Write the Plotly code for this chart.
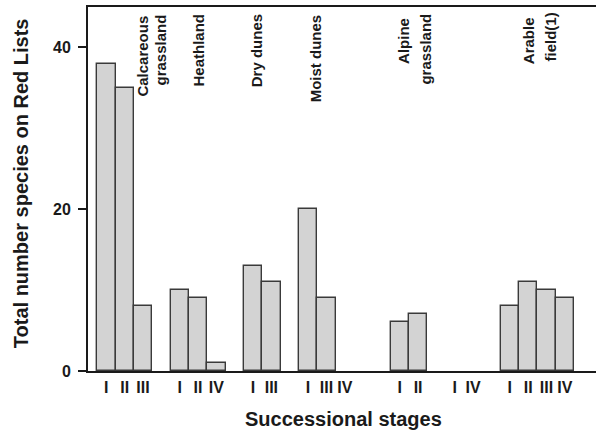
import plotly.graph_objects as go

# ---- data ----
stage_labels = ["I", "II", "III", "", "I", "II", "IV", "", "I", "III", "",
                "I", "III", "IV", "", "", "I", "II", "", "I", "IV", "",
                "I", "II", "III", "IV"]
species_counts = [38, 35, 8, None, 10, 9, 1, None, 13, 11, None,
                  20, 9, 0, None, None, 6, 7, None, 0, 0, None,
                  8, 11, 10, 9]
y_ticks = [0, 20, 40]
habitat_lines = ["Calcareous", "grassland", "Heathland", "Dry dunes", "Moist dunes",
                 "Alpine", "grassland", "Arable", "field(1)"]

# ---- layout helpers ----
slot_pos = [i + 1 for i in range(len(stage_labels))]
bar_x = [p for p, v in zip(slot_pos, species_counts) if v]
bar_y = [v for v in species_counts if v]
tick_x = [p for p, s in zip(slot_pos, stage_labels) if s]
tick_t = [s for s in stage_labels if s]

FONT = "Liberation Sans, Arial, Helvetica, sans-serif"
INK = "#1a1a1a"

fig = go.Figure()
fig.add_trace(go.Bar(
    x=bar_x, y=bar_y, width=1,
    marker=dict(color="#d3d3d3", line=dict(color="#3a3a3a", width=1.4)),
    showlegend=False, hoverinfo="x+y",
))

# habitat label placement (x in data units, top pixel of text)
label_x = [2.95, 3.98, 6.0, 9.2, 12.45, 17.2, 18.38, 24.0, 25.22]
label_top_px = [14, 12, 12, 12, 12, 15.5, 12, 15.5, 10.5]

annotations = []
for txt, lx, ty in zip(habitat_lines, label_x, label_top_px):
    annotations.append(dict(
        text=txt, x=lx, xref="x", y=(371 - ty) / 364, yref="paper",
        xanchor="center", yanchor="top", textangle=-90, showarrow=False,
        font=dict(family=FONT, size=15, color=INK, weight="bold"),
    ))

annotations.append(dict(
    text="Total number species on Red Lists", x=(20.7 - 88) / 508, xref="paper",
    y=(371 - 183.5) / 364, yref="paper", xanchor="center", yanchor="middle",
    textangle=-90, showarrow=False,
    font=dict(family=FONT, size=20, color=INK, weight="bold"),
))
annotations.append(dict(
    text="Successional stages", x=(343 - 88) / 508, xref="paper",
    y=(371 - 419) / 364, yref="paper", xanchor="center", yanchor="middle",
    showarrow=False,
    font=dict(family=FONT, size=20, color=INK, weight="bold"),
))

fig.update_layout(
    width=596, height=431,
    margin=dict(l=88, r=0, t=7, b=60),
    paper_bgcolor="white", plot_bgcolor="white",
    bargap=0,
    annotations=annotations,
    xaxis=dict(
        range=[0, 27.7], showgrid=False, zeroline=False,
        showline=True, linecolor=INK, linewidth=2, mirror=True,
        tickvals=tick_x, ticktext=tick_t, ticks="",
        tickfont=dict(family=FONT, size=16, color=INK, weight="bold"),
        ticklabelstandoff=1,
    ),
    yaxis=dict(
        range=[0, 45], showgrid=False, zeroline=False,
        showline=True, linecolor=INK, linewidth=2,
        tickvals=y_ticks, ticks="outside", ticklen=8, tickwidth=2, tickcolor=INK,
        tickfont=dict(family=FONT, size=16, color=INK, weight="bold"),
        ticklabelstandoff=4,
    ),
)

fig.write_html("out.html", config={"displayModeBar": False},
               post_script="document.body.style.margin='0';")
